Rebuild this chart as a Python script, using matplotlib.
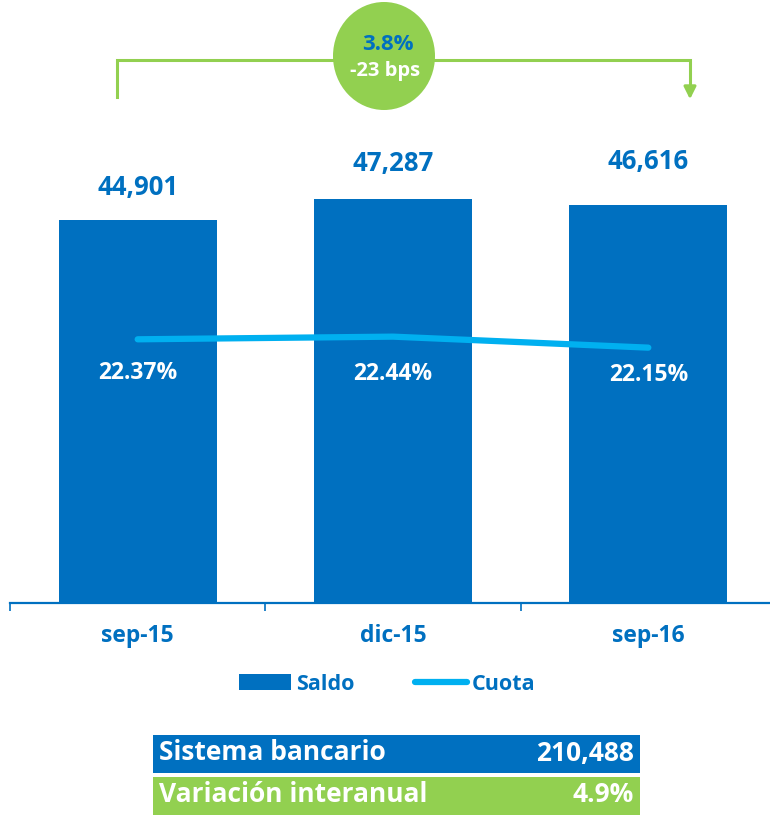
"""
Saldo vs cuota de mercado — bar + line combo with bracket callout and summary table
Output: out.png
"""
import matplotlib.pyplot as plt
from matplotlib.patches import Ellipse, Rectangle
from matplotlib.lines import Line2D
from matplotlib.patches import Patch

# ── Data ───────────────────────────────────────────────────────────────────────
periods = ["sep-15", "dic-15", "sep-16"]
saldo = [44901, 47287, 46616]
cuota = [22.37, 22.44, 22.15]
growth_label = "3.8%"
bps_label = "-23 bps"
table_labels = ["Sistema bancario", "Variación interanual"]
table_values = ["210,488", "4.9%"]

# ── Palette ────────────────────────────────────────────────────────────────────
BLUE = "#0070C0"
CYAN = "#00B0F0"
GREEN = "#92D050"
WHITE = "#FFFFFF"

plt.rcParams["font.family"] = ["Open Sans", "DejaVu Sans"]
plt.rcParams["font.weight"] = "bold"

W, H = 770, 818
fig = plt.figure(figsize=(W / 100, H / 100), dpi=100)
fig.patch.set_facecolor(WHITE)

def fx(px):
    return px / W

def fy(py):
    return 1 - py / H

# ── Main axes (pixel box: x 10..776, y 142..603) ───────────────────────────────
ax_l, ax_r, ax_t, ax_b = 10, 776, 142, 603
ax = fig.add_axes([fx(ax_l), fy(ax_b), (ax_r - ax_l) / W, (ax_b - ax_t) / H])
ax.set_facecolor("none")
xs = list(range(len(periods)))
ax.bar(xs, saldo, width=0.62, color=BLUE, zorder=2)
ax.set_xlim(-0.5, 2.5)
ax.set_ylim(0, 54000)
ax.set_yticks([])
for s in ["top", "left", "right"]:
    ax.spines[s].set_visible(False)
ax.spines["bottom"].set_color(BLUE)
ax.spines["bottom"].set_linewidth(1.6)
ax.set_xticks(xs)
ax.set_xticklabels(periods, fontsize=16.5, fontweight="bold", color=BLUE)
ax.tick_params(axis="x", which="major", length=0, pad=15)
ax.set_xticks([-0.5, 0.5, 1.5, 2.5], minor=True)
ax.tick_params(axis="x", which="minor", length=6, width=1.2, color=BLUE)

# value labels above bars
label_offsets = [23, 26, 31]
for x, v, off in zip(xs, saldo, label_offsets):
    ax.annotate(f"{v:,}", xy=(x, v), xytext=(0, off), textcoords="offset points",
                ha="center", va="center", fontsize=18.5, fontweight="bold",
                color=BLUE, zorder=5)

# ── Secondary axis for Cuota ───────────────────────────────────────────────────
ax2 = ax.twinx()
ax2.set_ylim(15.42, 27.57)
ax2.axis("off")
ax2.plot(xs, cuota, color=CYAN, lw=4.5, solid_capstyle="round",
         solid_joinstyle="round", zorder=3)
pct_offsets = [-24, -27, -20]
for x, v, off in zip(xs, cuota, pct_offsets):
    ax2.annotate(f"{v:.2f}%", xy=(x, v), xytext=(0, off), textcoords="offset points",
                 ha="center", va="center", fontsize=16.5, fontweight="bold",
                 color=WHITE, zorder=5)

# ── Legend ─────────────────────────────────────────────────────────────────────
handles = [Patch(facecolor=BLUE, edgecolor="none"),
           Line2D([0], [0], color=CYAN, lw=4.5, solid_capstyle="round")]
leg = fig.legend(handles, ["Saldo", "Cuota"], loc="center",
                 bbox_to_anchor=(fx(387), fy(684)), ncol=2, frameon=False,
                 fontsize=15.5, handlelength=2.45, handletextpad=0.2,
                 columnspacing=2.8)
for t in leg.get_texts():
    t.set_color(BLUE)
    t.set_fontweight("bold")

# ── Overlay in pixel coords: bracket, circle, table ────────────────────────────
ov = fig.add_axes([0, 0, 1, 1])
ov.set_xlim(0, W)
ov.set_ylim(H, 0)
ov.axis("off")
ov.set_facecolor("none")

ov.plot([117, 117, 690, 690], [97, 60, 60, 88], color=GREEN, lw=2.2,
        solid_joinstyle="miter", zorder=2)
ov.annotate("", xy=(690, 102), xytext=(690, 86),
            arrowprops=dict(arrowstyle="-|>", color=GREEN, lw=2.2,
                            mutation_scale=18), zorder=2)
ov.add_patch(Ellipse((384, 56), 102, 108, facecolor=GREEN, edgecolor="none", zorder=3))
ov.text(388, 45, growth_label, ha="center", va="center", fontsize=16,
        fontweight="bold", color=BLUE, zorder=4)
ov.text(385, 71, bps_label, ha="center", va="center", fontsize=14.5,
        fontweight="bold", color=WHITE, zorder=4)

row_colors = [BLUE, GREEN]
row_tops = [735, 777]
for lab, val, c, top in zip(table_labels, table_values, row_colors, row_tops):
    ov.add_patch(Rectangle((153, top), 487, 38, facecolor=c, edgecolor="none"))
    ov.text(159, top + 18, lab, ha="left", va="center", fontsize=19,
            fontweight="bold", color=WHITE)
    ov.text(634, top + 18, val, ha="right", va="center", fontsize=19,
            fontweight="bold", color=WHITE)

fig.savefig("out.png", dpi=100, facecolor=WHITE)
